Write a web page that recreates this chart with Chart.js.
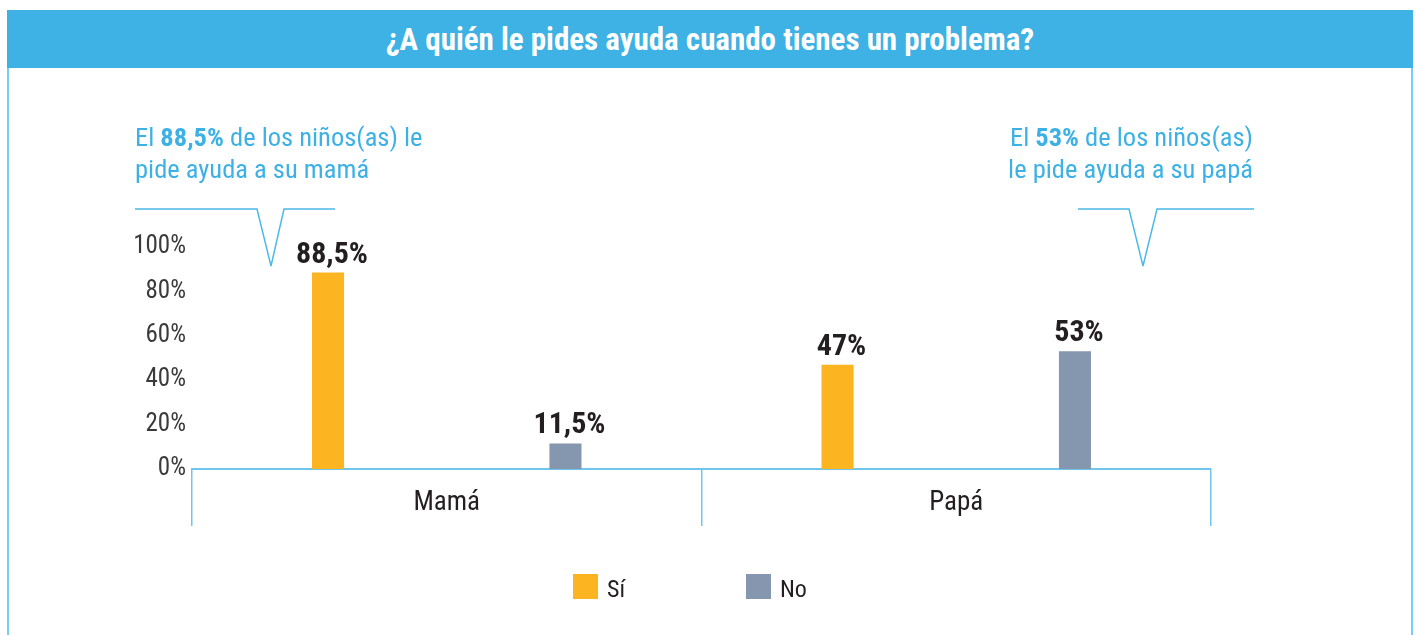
<!DOCTYPE html>
<html><head><meta charset="utf-8">
<script src="https://cdn.jsdelivr.net/npm/chart.js@4.4.0/dist/chart.umd.min.js"></script>
<style>
html,body{margin:0;padding:0;background:#fff;width:1415px;height:635px;overflow:hidden;font-family:"Roboto Condensed","Liberation Sans",sans-serif;}
#wrap{position:relative;width:1415px;height:635px;}
#frame{position:absolute;left:7px;top:10px;width:1406px;height:640px;border-left:2px solid #7ACCF0;border-right:2px solid #7ACCF0;box-sizing:border-box;}
#title{position:absolute;left:7px;top:10px;width:1406px;height:58px;background:#3EB1E5;color:#fff;font-weight:bold;font-size:31px;display:flex;align-items:center;justify-content:center;}
#chart{position:absolute;left:0;top:0;}
.note{position:absolute;color:#3DB1E5;font-size:26.5px;line-height:32px;white-space:nowrap;}
#noteL{left:135px;top:121px;}
#noteR{right:162px;top:121px;text-align:right;}
svg{position:absolute;left:0;top:0;}
#legend{position:absolute;left:573px;top:574px;display:flex;}
.item{width:173px;display:flex;align-items:flex-start;}
.box{width:25px;height:25px;margin-right:9px;}
.lt{font-size:24px;line-height:25px;margin-top:3px;color:#231F20;}
</style></head>
<body>
<div id="wrap">
  <div id="frame"></div>
  <div id="title">¿A quién le pides ayuda cuando tienes un problema?</div>
  <canvas id="chart" width="1415" height="635"></canvas>
  <div class="note" id="noteL">El <b>88,5%</b> de los niños(as) le<br>pide ayuda a su mamá</div>
  <div class="note" id="noteR">El <b>53%</b> de los niños(as)<br>le pide ayuda a su papá</div>
  <svg width="1415" height="635">
    <polyline points="135,209 257,209 271,266 284,209 335,209" fill="none" stroke="#4CB9E8" stroke-width="1.5"/>
    <polyline points="1078,209 1129,209 1143,266 1157,209 1254,209" fill="none" stroke="#4CB9E8" stroke-width="1.5"/>
  </svg>
  <div id="legend"></div>
</div>
<script>
const categories = ['Mamá', 'Papá'];
const seriesNames = ['Sí', 'No'];
const siValues = [88.5, 47];
const noValues = [11.5, 53];
const seriesColors = ['#FDB421', '#8596AF'];
const yTickMin = 0;
const yTickMax = 100;
const yTickStep = 20;

const FONT = '"Roboto Condensed", "Liberation Sans", sans-serif';
const LINE = '#6EC6EC';

const valueLabels = {
  id: 'valueLabels',
  afterDatasetsDraw(chart) {
    const ctx = chart.ctx;
    ctx.save();
    ctx.font = 'bold 30px ' + FONT;
    ctx.fillStyle = '#231F20';
    ctx.textAlign = 'center';
    ctx.textBaseline = 'alphabetic';
    chart.data.datasets.forEach((ds, i) => {
      chart.getDatasetMeta(i).data.forEach((bar, j) => {
        const txt = String(ds.data[j]).replace('.', ',') + '%';
        ctx.fillText(txt, bar.x + 4, bar.y - 10);
      });
    });
    ctx.restore();
  }
};

function draw() {
  const chart = new Chart(document.getElementById('chart'), {
    type: 'bar',
    data: {
      labels: categories,
      datasets: [
        { label: seriesNames[0], data: siValues, backgroundColor: seriesColors[0] },
        { label: seriesNames[1], data: noValues, backgroundColor: seriesColors[1] }
      ]
    },
    options: {
      responsive: false,
      animation: false,
      devicePixelRatio: 1,
      datasets: { bar: { categoryPercentage: 0.932, barPercentage: 0.135 } },
      layout: { padding: { top: 247, left: 0, right: 204, bottom: 106 } },
      plugins: { legend: { display: false }, tooltip: { enabled: false }, title: { display: false } },
      scales: {
        x: {
          grid: { display: true, offset: true, drawOnChartArea: false, drawTicks: true, tickLength: 57, color: LINE, lineWidth: 1.5 },
          border: { display: true, color: LINE, width: 2 },
          ticks: { font: { family: FONT, size: 27 }, color: '#231F20', padding: -39 },
          afterFit(s) { s.height = 60; }
        },
        y: {
          min: yTickMin, max: yTickMax,
          grid: { display: false, drawTicks: false },
          border: { display: false },
          ticks: { stepSize: yTickStep, padding: 6, font: { family: FONT, size: 25 }, color: '#3A3A3A', callback: v => v + '%' },
          afterFit(s) { s.width = 192; }
        }
      }
    },
    plugins: [valueLabels]
  });

  const legend = document.getElementById('legend');
  chart.data.datasets.forEach(ds => {
    const it = document.createElement('div'); it.className = 'item';
    const b = document.createElement('div'); b.className = 'box'; b.style.background = ds.backgroundColor;
    const t = document.createElement('div'); t.className = 'lt'; t.textContent = ds.label;
    it.appendChild(b); it.appendChild(t); legend.appendChild(it);
  });
}
if (document.fonts && document.fonts.load) {
  Promise.all([
    document.fonts.load('25px "Roboto Condensed"'),
    document.fonts.load('bold 30px "Roboto Condensed"')
  ]).then(draw, draw);
} else { draw(); }
</script>
</body></html>
